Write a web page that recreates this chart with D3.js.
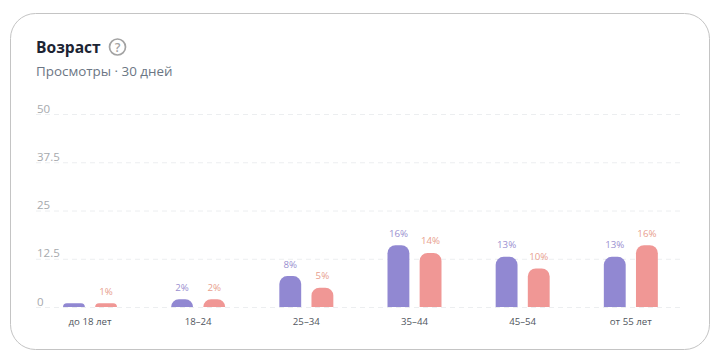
<!DOCTYPE html>
<html lang="ru">
<head>
<meta charset="utf-8">
<script src="https://cdn.jsdelivr.net/npm/d3@7"></script>
<style>
  html, body { margin: 0; padding: 0; background: #fff; }
  svg { display: block; font-family: "Open Sans", sans-serif; }
</style>
</head>
<body>
<script>
  //chart data
  var categories = ["до 18 лет", "18–24", "25–34", "35–44", "45–54", "от 55 лет"];
  var seriesA = [1, 2, 8, 16, 13, 13];
  var seriesB = [1, 2, 5, 14, 10, 16];
  var labelsA = ["", "2%", "8%", "16%", "13%", "13%"]; //first purple bar has no label
  var labelsB = ["1%", "2%", "5%", "14%", "10%", "16%"];
  var yTicks = [0, 12.5, 25, 37.5, 50];
  var yTickLabels = ["0", "12.5", "25", "37.5", "50"];

  var width = 720, height = 362;
  var colorA = "#9188d2", colorB = "#f09795";
  var labelA = "#9a8fd0", labelB = "#e8a08e";

  var svg = d3.select("body").append("svg")
      .attr("width", width)
      .attr("height", height);

  //card
  svg.append("rect")
      .attr("x", 10.5).attr("y", 13.5)
      .attr("width", 699).attr("height", 336)
      .attr("rx", 25)
      .attr("fill", "#fff")
      .attr("stroke", "#c4c4c4");

  //header
  svg.append("text")
      .attr("x", 36).attr("y", 53)
      .attr("font-size", 15.6).attr("font-weight", 700)
      .attr("fill", "#1c2433")
      .text("Возраст");

  var help = svg.append("g").attr("transform", "translate(117.5,47)");
  help.append("circle").attr("r", 8).attr("fill", "none").attr("stroke", "#a3a3a3").attr("stroke-width", 1.7);
  help.append("text").attr("y", 4.5).attr("text-anchor", "middle")
      .attr("font-size", 12.5).attr("font-weight", 600).attr("fill", "#a3a3a3").text("?");

  svg.append("text")
      .attr("x", 36).attr("y", 76)
      .attr("font-size", 13.4).attr("fill", "#6b7684")
      .text("Просмотры · 30 дней");

  //scales
  var x = d3.scaleBand().domain(categories).range([36, 685]);
  var inner = d3.scaleBand().domain(["a", "b"]).range([27, 81]).paddingInner(0.32);
  var y = d3.scaleLinear().domain([0, 50]).range([307, 114]);

  //grid and y labels
  svg.selectAll(".gridLine")
      .data(yTicks)
      .enter()
      .append("line")
      .attr("class", "gridLine")
      .attr("x1", 36).attr("x2", 682)
      .attr("y1", function(d){ return y(d) + 0.5; })
      .attr("y2", function(d){ return y(d) + 0.5; })
      .attr("stroke", "#eceef0")
      .attr("stroke-dasharray", "5,4");

  svg.selectAll(".yLabel")
      .data(yTicks)
      .enter()
      .append("text")
      .attr("class", "yLabel")
      .attr("x", 37)
      .attr("y", function(d){ return y(d) - 1.5; })
      .attr("font-size", 11.5)
      .attr("fill", "#a6a9ad")
      .text(function(d, i){ return yTickLabels[i]; });

  //rounded-top bar path
  function barPath(x0, w, top, bottom){
    var r = Math.min(8, bottom - top);
    return "M" + x0 + "," + bottom +
      "V" + (top + r) +
      "A" + r + "," + r + " 0 0 1 " + (x0 + r) + "," + top +
      "H" + (x0 + w - r) +
      "A" + r + "," + r + " 0 0 1 " + (x0 + w) + "," + (top + r) +
      "V" + bottom + "Z";
  }

  function drawSeries(values, labels, key, fill, labelFill){
    svg.selectAll(".bar" + key)
        .data(values)
        .enter()
        .append("path")
        .attr("class", "bar" + key)
        .attr("fill", fill)
        .attr("d", function(d, i){
          return barPath(x(categories[i]) + inner(key), inner.bandwidth(), y(d), y(0));
        });

    svg.selectAll(".value" + key)
        .data(values)
        .enter()
        .append("text")
        .attr("class", "value" + key)
        .attr("x", function(d, i){ return x(categories[i]) + inner(key) + inner.bandwidth() / 2; })
        .attr("y", function(d){ return y(d) - 8.5; })
        .attr("text-anchor", "middle")
        .attr("font-size", 9.7)
        .attr("fill", labelFill)
        .text(function(d, i){ return labels[i]; });
  }

  drawSeries(seriesA, labelsA, "a", colorA, labelA);
  drawSeries(seriesB, labelsB, "b", colorB, labelB);

  //category labels
  svg.selectAll(".category")
      .data(categories)
      .enter()
      .append("text")
      .attr("class", "category")
      .attr("x", function(d){ return x(d) + 54; })
      .attr("y", 325)
      .attr("text-anchor", "middle")
      .attr("font-size", 9.7)
      .attr("fill", "#50565e")
      .text(function(d){ return d; });
</script>
</body>
</html>
